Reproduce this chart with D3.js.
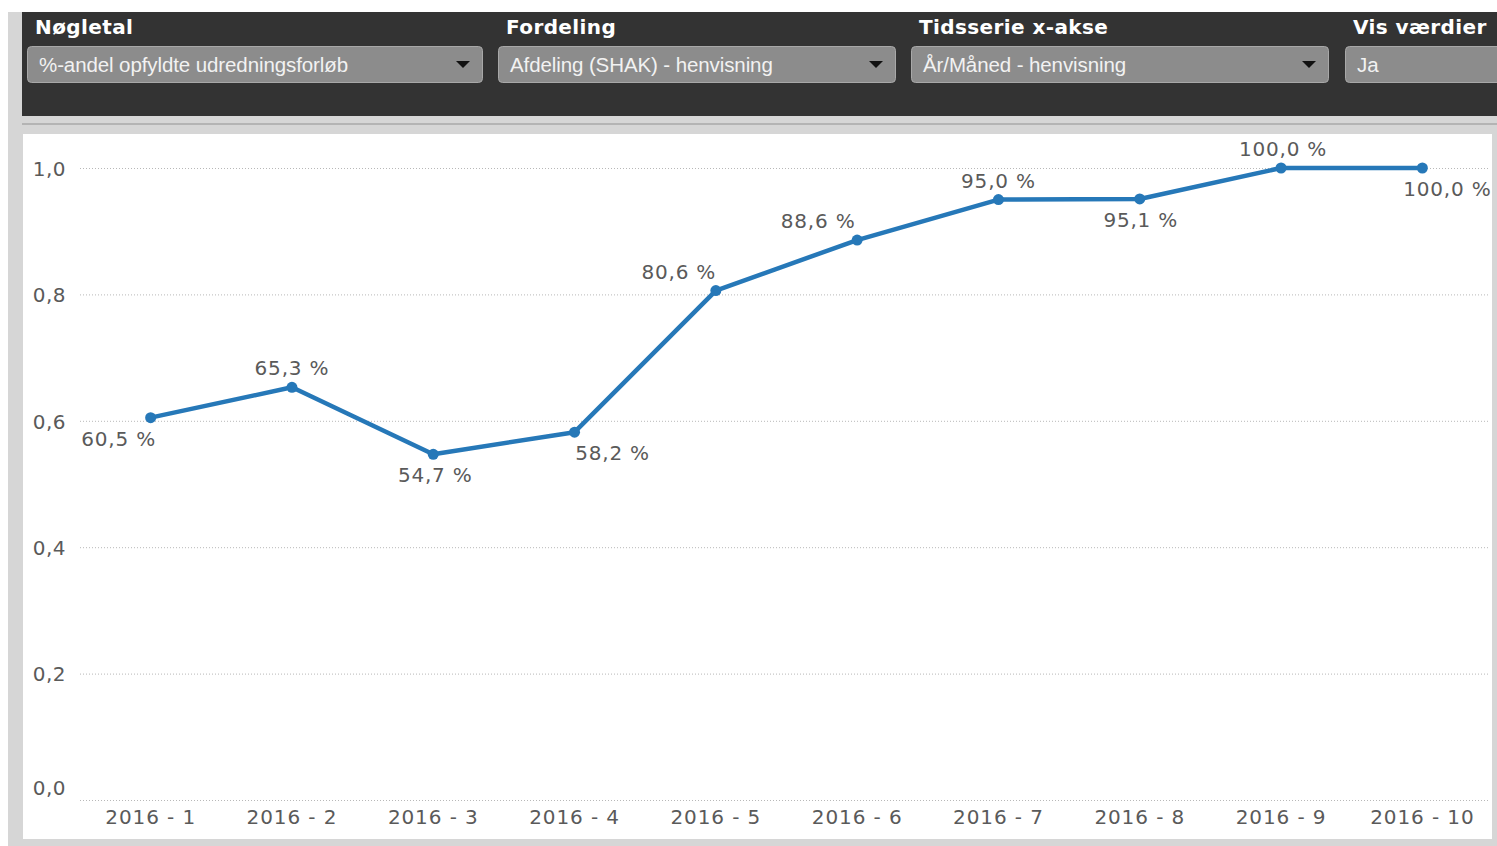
<!DOCTYPE html>
<html>
<head>
<meta charset="utf-8">
<script src="https://cdn.jsdelivr.net/npm/d3@7"></script>
<style>
  html, body { margin: 0; padding: 0; background: #ffffff; }
  svg { display: block; }
</style>
</head>
<body>
<svg width="1497" height="846"></svg>
<script>
// Data
const months = ["2016 - 1", "2016 - 2", "2016 - 3", "2016 - 4", "2016 - 5",
                "2016 - 6", "2016 - 7", "2016 - 8", "2016 - 9", "2016 - 10"];
const shares = [0.605, 0.653, 0.547, 0.582, 0.806, 0.886, 0.950, 0.951, 1.000, 1.000];
const yTicks = [0, 0.2, 0.4, 0.6, 0.8, 1.0];
// label placement: above/below the point, with a sideways nudge
const labelSide = ["below", "above", "below", "below", "above", "above", "above", "below", "above", "below"];
const labelNudge = [-32, 0, 2, 38, -37, -39, 0, 1, 2, 25];

const filterTitles = ["Nøgletal", "Fordeling", "Tidsserie x-akse", "Vis værdier"];
const filterValues = ["%-andel opfyldte udredningsforløb", "Afdeling (SHAK) - henvisning",
                      "År/Måned - henvisning", "Ja"];

// Variables
const svg_width = 1497;
const svg_height = 846;
const lineColor = "#2678b8";
const textGray = "#5a5a5a";
const numFont = "'DejaVu Sans', Verdana, sans-serif";

let svg = d3.select("svg");

// Frame / panels
svg.append("rect").attr("x", 8).attr("y", 12).attr("width", svg_width - 8).attr("height", svg_height - 12)
    .attr("fill", "#d6d6d6");
svg.append("rect").attr("x", 22).attr("y", 12).attr("width", svg_width - 22).attr("height", 104)
    .attr("fill", "#333333");
svg.append("rect").attr("x", 22).attr("y", 123).attr("width", svg_width - 22).attr("height", 2)
    .attr("fill", "#b4b4b4");
svg.append("rect").attr("x", 23).attr("y", 134).attr("width", 1469).attr("height", 705)
    .attr("fill", "#ffffff");

// Filter bar
const boxX = [27, 498, 911, 1345];
const boxW = [455, 397, 417, 160];
let filters = svg.append("g");
filterTitles.forEach(function (title, i) {
    filters.append("text")
        .attr("x", boxX[i] + 8)
        .attr("y", 34)
        .attr("font-family", numFont)
        .attr("font-weight", "bold")
        .attr("font-size", 20)
        .attr("letter-spacing", 0.4)
        .attr("fill", "#ffffff")
        .text(title);
    filters.append("rect")
        .attr("x", boxX[i] + 0.5).attr("y", 46.5)
        .attr("width", boxW[i]).attr("height", 36)
        .attr("rx", 4)
        .attr("fill", "#8c8c8c")
        .attr("stroke", "#a8a8a8");
    filters.append("text")
        .attr("x", boxX[i] + 12)
        .attr("y", 72)
        .attr("font-family", "'Liberation Sans', Arial, sans-serif")
        .attr("font-size", 20.5)
        .attr("letter-spacing", -0.1)
        .attr("fill", "#f2f2f2")
        .text(filterValues[i]);
    if (i < 3) {
        let ax = boxX[i] + boxW[i] - 19;
        filters.append("path")
            .attr("d", `M${ax - 7},61 L${ax + 7},61 L${ax},68 Z`)
            .attr("fill", "#111111");
    }
});

// Scales
let xscale = d3.scaleBand().domain(months).range([80, 1493]);
let yscale = d3.scaleLinear().domain([0, 1]).range([800, 168]);

// Gridlines
svg.append("g")
    .selectAll("line")
    .data(yTicks)
    .enter().append("line")
    .attr("x1", 80).attr("x2", 1490)
    .attr("y1", d => yscale(d) + 0.5).attr("y2", d => yscale(d) + 0.5)
    .attr("stroke", "#b8b8b8")
    .attr("stroke-width", 1)
    .attr("stroke-dasharray", "1,2");

// Y axis labels
let yaxis = d3.axisLeft(yscale).tickValues(yTicks)
    .tickFormat(d => d3.format(".1f")(d).replace(".", ","))
    .tickSize(0).tickPadding(0);
let yg = svg.append("g").attr("transform", "translate(66, 0)").call(yaxis);
yg.select(".domain").remove();
yg.selectAll("text")
    .attr("font-family", numFont)
    .attr("font-size", 20)
    .attr("letter-spacing", 0.5)
    .attr("fill", textGray)
    .attr("dy", "0.36em")
    .attr("y", d => d === 0 ? -13 : 0);

// X axis labels
let xaxis = d3.axisBottom(xscale).tickSize(0).tickPadding(0);
let xg = svg.append("g").attr("transform", "translate(0, 810)").call(xaxis);
xg.select(".domain").remove();
xg.selectAll("text")
    .attr("font-family", numFont)
    .attr("font-size", 20)
    .attr("letter-spacing", 0.9)
    .attr("fill", textGray);

// Line
let cx = (d, i) => xscale(months[i]) + xscale.bandwidth() / 2;
let line = d3.line().x(cx).y(d => yscale(d));
svg.append("path")
    .datum(shares)
    .attr("d", line)
    .attr("fill", "none")
    .attr("stroke", lineColor)
    .attr("stroke-width", 4.5)
    .attr("stroke-linejoin", "round");

// Points
svg.append("g")
    .selectAll("circle")
    .data(shares)
    .enter().append("circle")
    .attr("cx", cx)
    .attr("cy", d => yscale(d))
    .attr("r", 5.5)
    .attr("fill", lineColor);

// Value labels
svg.append("g")
    .selectAll("text")
    .data(shares)
    .enter().append("text")
    .attr("x", (d, i) => cx(d, i) + labelNudge[i])
    .attr("y", (d, i) => yscale(d) + (labelSide[i] === "above" ? -12 : 28))
    .attr("text-anchor", "middle")
    .attr("font-family", numFont)
    .attr("font-size", 20)
    .attr("letter-spacing", 0.8)
    .attr("fill", textGray)
    .text(d => d3.format(".1f")(d * 100).replace(".", ",") + " %");
</script>
</body>
</html>
